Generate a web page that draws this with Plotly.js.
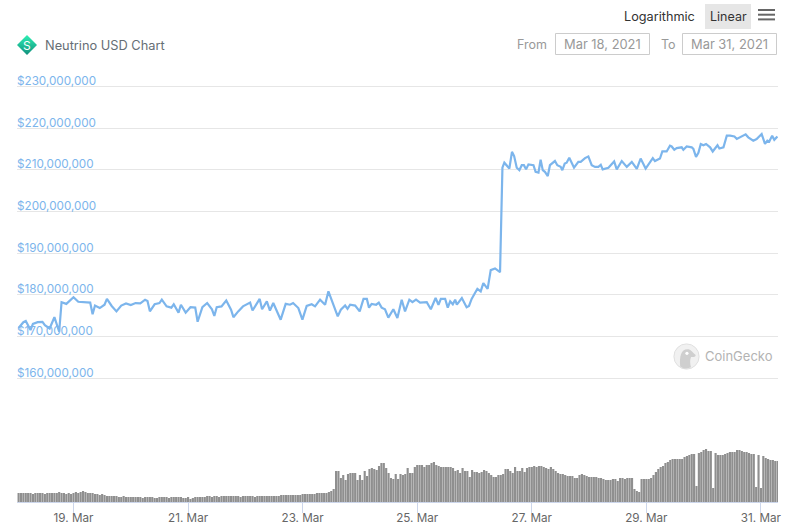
<!DOCTYPE html>
<html><head><meta charset="utf-8">
<script src="https://cdn.plot.ly/plotly-3.0.1.min.js"></script>
<style>html,body{margin:0;padding:0;background:#fff}#c{width:799px;height:528px}</style></head>
<body><div id="c"></div>
<script>
// hours after 18 Mar 2021 00:00 UTC
const priceHours=[1,3,4,6,7,9,11,12,14,16,18,19,21,23,24,26,28,30,31,32,33,35,37,38,40,42,44,46,48,50,52,54,55,56,58,60,61,63,65,66,68,69,71,73,75,76,78,80,82,83,84,86,88,90,91,93,95,98,99,102,103,105,
106.3,107.7,109.1,110.8,112.9,114.7,116,118.2,119.9,121.7,123.8,125.2,127.3,129.4,130.8,132.9,134.7,136,137.8,138.8,139.9,142,143.9,145.5,146.9,147.8,148.9,150.8,151.9,153.1,154.5,155.9,158,159.7,161.5,162.9,164.7,166,167.5,169.2,172,173.7,175.7,176.9,177.9,179.7,180.8,181.8,182.9,183.9,184.6,186.7,188.7,189.7,190.8,192.2,193.2,194.6,195.7,197.5,198.8,200.6,202.7,
203.7,204.5,206.6,207.7,208.6,209.7,210.8,211.8,212.7,213.6,214.6,216.7,217.6,218.8,219.7,220.6,221.5,222.7,223.6,225.7,226.7,228.1,228.8,229.8,230.6,231.7,233.7,235.5,236.5,238.3,239.7,241.1,242.5,243.9,244.9,245.7,248.1,249.5,250.5,251.6,253.7,255.8,257.9,260,261.6,263.7,265.5,266.7,267.6,269.7,270.7,272.5,273.9,274.6,275.7,276.7,278.8,279.5,280.9,283,283.7,284.8,285.8,286.8,287.9,289,290.7,291.8,293.8,294.6,296.3,297.7,299.1,300.9,301.9,303.9,305.6,306.7,308.8,310.2,312.3,313.7,314.7,315.5,316.7,317.6,318.9];
// USD millions
const priceValues=[172,173.4,173.7,171.5,173,173.4,173.5,172.7,171.9,174.6,171.1,178.2,177.8,179,179.4,178.3,178.2,178,178.1,175.3,177.4,176.8,177.6,179,177.3,176,177.4,177.9,177.5,178,177.9,178.8,178.5,176,177.7,178,178.8,177.2,176.9,177.7,175.7,177.6,175.7,177,176.9,173.5,177,178,176.5,174.9,177,177.2,178.6,176.4,174.6,176,177.2,178.1,176.2,179,176.5,178.4,
176.2,178,176.2,174,177.8,177.6,178,176.8,174,177.3,177.7,177.2,178.8,177.6,180.8,177.6,174.8,176.4,177.4,176.6,177.6,177.4,176,179,179,176.9,177.8,177.6,178.1,176.9,176.5,174.5,176.5,174.4,178.8,176,178.8,178.2,178.8,178.1,178.2,176.5,179.2,177.6,179,179,176.9,178.4,177.7,178.8,177.6,179.2,177,177.3,179,180.4,181.4,180.8,182.8,181.4,185.9,186.3,185.4,
210.5,211.7,210.3,214.3,213.3,210.5,209.9,211.1,211.1,210.1,211.3,211.1,209.5,209.3,212.4,209.9,209.5,208.5,211.1,212.1,211.1,210.7,209.9,211.5,211.7,212.9,210.5,211.9,211.9,212.8,213.2,211.1,210.7,210.7,211.2,210.1,210.5,211.3,212,210.1,212.1,210.7,211.9,210.2,212.7,210.3,211.9,212.8,212.1,212.7,214.4,214.4,215.8,215.6,214.8,215.2,215.4,214.8,215.6,215.4,215,213.1,214.1,216.2,215.9,216.2,215.4,214.4,215.9,215.1,215.4,218.2,218.2,218,217.4,218,218.5,217.8,217,217.4,218.6,216.2,217,216.8,218.2,217.2,218];
// hourly volume, relative units, first bar at hour 1
const volumeValues=[9,9,9,9,9,9,8,9,9,9,9,8,9,9,9,9,9,10,9,9,8,9,8,9,10,9,10,11,10,9,
9,9,8,8,7,8,7,6,
6,6,6,6,5,5,6,5,5,5,5,5,5,5,4,5,5,5,5,4,4,5,5,5,5,4,5,5,5,5,5,4,4,5,3,4,5,
5,5,5,5,6,6,5,6,6,5,6,6,6,6,6,6,6,6,5,6,6,6,6,6,5,6,6,6,6,6,6,6,6,6,6,
7,7,7,7,7,7,7,7,7,8,8,8,8,8,8,9,9,9,9,9,10,11,13,
31,31,24,27,22,28,29,29,29,22,27,22,31,26,33,34,33,32,36,39,39,34,29,24,23,28,23,28,27,28,34,29,29,35,37,37,37,35,37,37,39,40,37,36,35,35,35,35,35,34,31,32,29,34,31,31,25,32,30,30,29,30,32,31,29,27,25,25,27,27,28,33,33,31,29,35,31,31,34,30,34,35,35,36,35,
36,36,35,34,33,35,33,31,29,28,28,27,26,26,26,24,24,27,28,27,26,25,25,25,25,24,24,23,22,22,22,23,23,21,24,24,23,24,24,24,13,11,10,23,23,23,23,24,27,30,33,35,36,39,40,42,43,43,43,43,43,45,46,47,48,48,16,49,50,52,53,51,51,14,49,47,47,47,48,49,50,50,50,52,52,51,50,50,49,48,48,15,47,14,46,44,43,42,42,41,41];
const priceTicks=[160,170,180,190,200,210,220,230];
const priceTickText=['$160,000,000','$170,000,000','$180,000,000','$190,000,000','$200,000,000','$210,000,000','$220,000,000','$230,000,000'];
const dateTicks=['2021-03-19','2021-03-21','2021-03-23','2021-03-25','2021-03-27','2021-03-29','2021-03-31'];
const dateLabels=['19. Mar','21. Mar','23. Mar','25. Mar','27. Mar','29. Mar','31. Mar'];

const W=799,H=528,HOUR=3600000,T0=Date.UTC(2021,2,18);
const ML=17,MR=21,MT=80,MB=26,PW=W-ML-MR,PH=H-MT-MB;
const t=h=>T0+h*HOUR, px=x=>(x-ML)/PW, py=y=>(H-MB-y)/PH;
const sans='Inter, "Liberation Sans", sans-serif';

function label(text,x,y,color,size,anchor){
  return {text,x:px(x),y:py(y),xref:'paper',yref:'paper',xanchor:anchor||'left',yanchor:'middle',showarrow:false,
    font:{family:sans,size:size||12,color},borderpad:0,borderwidth:0};
}
function rect(x0,y0,x1,y1,fill,line){
  return {type:'rect',xref:'paper',yref:'paper',x0:px(x0),x1:px(x1),y0:py(y0),y1:py(y1),
    fillcolor:fill,line:{color:line||fill,width:line?1:0},layer:'below'};
}
const svg=s=>'data:image/svg+xml;charset=utf-8,'+encodeURIComponent(s);
const coinSvg=svg('<svg xmlns="http://www.w3.org/2000/svg" viewBox="0 0 40 40"><defs><linearGradient id="g" x1="0" y1="0" x2="0" y2="1"><stop offset="0" stop-color="#2ef0b4"/><stop offset="1" stop-color="#128f7c"/></linearGradient></defs><path d="M20 0L40 20L20 40L0 20Z" fill="url(#g)"/></svg>');
const geckoSvg=svg('<svg xmlns="http://www.w3.org/2000/svg" viewBox="0 0 60 60"><circle cx="30" cy="30" r="28" fill="#f1f1f1" stroke="#dcdcdc" stroke-width="2"/><path d="M16 52C14 30 18 14 32 14C40 14 42 20 50 26C52 30 46 32 40 31C37 38 38 46 40 54C32 58 22 57 16 52Z" fill="#cfcfcf"/><circle cx="31" cy="23" r="3.5" fill="#fff"/></svg>');

const traces=[
 {type:'scatter',mode:'lines',x:priceHours.map(t),y:priceValues,xaxis:'x',yaxis:'y',
  line:{color:'#7cb5ec',width:2.2,shape:'linear'},hoverinfo:'skip',showlegend:false},
 {type:'bar',x:volumeValues.map((v,i)=>t(i+1)),y:volumeValues,xaxis:'x',yaxis:'y2',
  width:HOUR*0.9,marker:{color:'#8f8f8f',line:{width:0}},hoverinfo:'skip',showlegend:false}
];
const priceLabels=priceTicks.map((v,i)=>({text:priceTickText[i],x:0,y:v,xref:'paper',yref:'y',xanchor:'left',yanchor:'middle',
  yshift:5.5,showarrow:false,borderpad:0,borderwidth:0,captureevents:false,font:{family:sans,size:11.7,color:'#7cb5ec'}}));
const layout={
 width:W,height:H,paper_bgcolor:'#fff',plot_bgcolor:'#fff',showlegend:false,
 margin:{l:ML,r:MR,t:MT,b:MB,pad:0},
 font:{family:sans},
 xaxis:{type:'date',range:[t(0.33),t(319.15)],anchor:'y2',showgrid:false,zeroline:false,
  tickmode:'array',tickvals:dateTicks,ticktext:dateLabels,ticks:'outside',ticklen:10,tickwidth:1,tickcolor:'#ccd6eb',
  showline:true,linecolor:'#ccd6eb',linewidth:1,ticklabelstandoff:-5,tickfont:{family:sans,size:11.7,color:'#666666'}},
 yaxis:{domain:[py(384),1],range:[158.56,231.56],anchor:'x',tickmode:'array',tickvals:priceTicks,ticktext:priceTickText,
  showgrid:true,gridcolor:'#e6e6e6',gridwidth:1,zeroline:false,showline:false,ticks:'',showticklabels:false},
 yaxis2:{domain:[0,py(449)],range:[0,53],anchor:'x',showgrid:false,zeroline:false,showline:false,showticklabels:false,ticks:''},
 shapes:[
  rect(705,4,751,29,'#e6e6e6'),
  rect(758,9,775,11,'#666666'),rect(758,13.7,775,15.7,'#666666'),rect(758,18.4,775,20.4,'#666666'),
  rect(555.5,33.5,649.5,54.5,'#ffffff','#cccccc'),rect(682.5,33.5,776.5,54.5,'#ffffff','#cccccc')
 ],
 images:[
  {source:coinSvg,xref:'paper',yref:'paper',x:px(17),y:py(35),sizex:20/PW,sizey:20/PH,sizing:'stretch',xanchor:'left',yanchor:'top',layer:'above'},
  {source:geckoSvg,xref:'paper',yref:'paper',x:px(673),y:py(343),sizex:27/PW,sizey:27/PH,sizing:'stretch',xanchor:'left',yanchor:'top',layer:'below'}
 ],
 annotations:priceLabels.concat([
  label('Neutrino USD Chart',45,45,'#666e75',12.8),
  label('S',27,45,'#ffffff',12,'center'),
  label('Logarithmic',624,16.5,'#333333',12.7),
  label('Linear',728,16.5,'#333333',12.5,'center'),
  label('From',517,44,'#999999',12.5),
  label('Mar 18, 2021',602.5,44,'#999999',12.9,'center'),
  label('To',661,44,'#999999',12.5),
  label('Mar 31, 2021',729.5,44,'#999999',12.9,'center'),
  label('CoinGecko',705,356,'#b3b3b3',13)
 ])
};
if(priceHours.length!==priceValues.length||volumeValues.length!==319)console.error('len',priceHours.length,priceValues.length,volumeValues.length);
Plotly.newPlot('c',traces,layout,{displayModeBar:false,staticPlot:true});
</script></body></html>
